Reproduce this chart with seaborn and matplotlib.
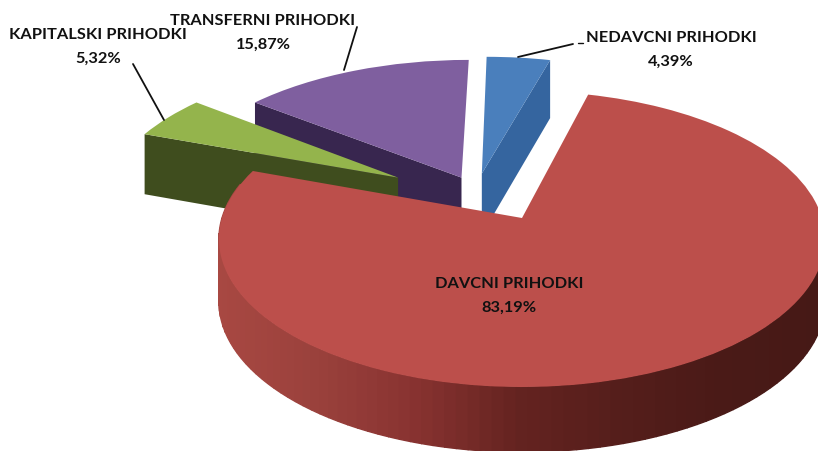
import numpy as np
import matplotlib
matplotlib.use('Agg')
import matplotlib.pyplot as plt
from matplotlib.transforms import Transform
import seaborn as sns

categories = ['NEDAVCNI PRIHODKI', 'DAVCNI PRIHODKI', 'KAPITALSKI PRIHODKI', 'TRANSFERNI PRIHODKI']
values = [4.39, 83.19, 5.32, 15.87]

top_colors = ['#4A7FBC', '#BC4F4B', '#94B44C', '#7F5F9F']
wall_colors = ['#35659F', '#7D2F2C', '#3F4D1E', '#38264F']
rim_colors = ['#A84842', '#9A413C', '#873230', '#642320', '#551E1B', '#4A1A17', '#461916']

# where each slice was pulled to, in pie units
offsets = [(-0.14, 0.32), (0, 0), (-0.43, 0.29), (-0.21, 0.29)]
label_xy = [(671, 38), (509, 284), (98, 35), (263, 21)]

# perspective of the pie, in pixels
APEX_X, APEX_Y = 522, 219
RX, RY, K = 300, 145, 0.142
DEPTH = 62


def project(x, y, depth=0.0):
    x, y = np.asarray(x, float), np.asarray(y, float)
    w = 1 + K * y
    return APEX_X + RX * x / w, APEX_Y - RY * y / w + depth * (1 - 0.05 * y)


class Perspective(Transform):
    input_dims = 2
    output_dims = 2
    is_separable = False
    has_inverse = False

    def transform_non_affine(self, pts):
        px, py = project(pts[:, 0], pts[:, 1])
        return np.column_stack([px, py])


sns.set_theme(style='white')
plt.rcParams['font.family'] = ['Lato', 'DejaVu Sans']

fig = plt.figure(figsize=(8.18, 4.52), dpi=100)
ax = fig.add_axes([0, 0, 1, 1])

wedges, _ = ax.pie(values, startangle=90, counterclock=False, colors=top_colors)
ax.set_aspect('auto')
ax.set_xlim(0, 818)
ax.set_ylim(452, 0)
ax.axis('off')

tr = Perspective() + ax.transData
top_z = [2, 8, 6, 4]
for w, off, z in zip(wedges, offsets, top_z):
    w.set_center(off)
    w.set_transform(tr)
    w.set_zorder(z)
    w.set_edgecolor('none')

# cut faces that look at the viewer, from the slice angles
angles = 90 - np.cumsum([0] + values) / np.sum(values) * 360
walls = [(0, angles[1]), (3, angles[3]), (2, angles[2])]
for i, ang in walls:
    ox, oy = offsets[i]
    xs = np.array([ox, ox + np.cos(np.radians(ang))])
    ys = np.array([oy, oy + np.sin(np.radians(ang))])
    x1, y1 = project(xs, ys)
    x2, y2 = project(xs, ys, DEPTH)
    ax.fill(np.r_[x1, x2[::-1]], np.r_[y1, y2[::-1]], color=wall_colors[i],
            lw=0, zorder=top_z[i] - 1)

# outer rim of the big slice, shaded left to right
rim_pal = sns.blend_palette(rim_colors, 256)
theta = np.radians(np.linspace(angles[2] % 360, 360 + angles[1], 140))
theta = theta[(theta > np.radians(165)) & (theta < np.radians(364))]
for a, b in zip(theta[:-1], theta[1:]):
    t = np.linspace(a, b, 3)
    x1, y1 = project(np.cos(t), np.sin(t))
    x2, y2 = project(np.cos(t), np.sin(t), DEPTH)
    c = rim_pal[int(np.clip((x1.mean() - 218) / 600, 0, 1) * 255)]
    ax.fill(np.r_[x1, x2[::-1]], np.r_[y1, y2[::-1]], color=c, lw=1.0, ec=c, zorder=7)

# labels
for name, val, (lx, ly) in zip(categories, values, label_xy):
    pct = f'{val:.2f}'.replace('.', ',') + '%'
    ax.text(lx, ly, name, ha='center', va='center', fontsize=11.8, fontweight='bold',
            color='#111111', zorder=10)
    ax.text(lx, ly + 24, pct, ha='center', va='center', fontsize=11.8, fontweight='bold',
            color='#111111', zorder=10)

# leader lines
ax.plot([573, 518], [45, 58], color='#111111', lw=1.3, zorder=9)
ax.plot([578, 583], [44, 44], color='#111111', lw=1.0, zorder=9)
ax.plot([357, 344], [28, 71], color='#111111', lw=1.3, zorder=9)
ax.plot([133, 164], [65, 121], color='#111111', lw=1.3, zorder=9)

fig.savefig('out.png', dpi=100, facecolor='white')
